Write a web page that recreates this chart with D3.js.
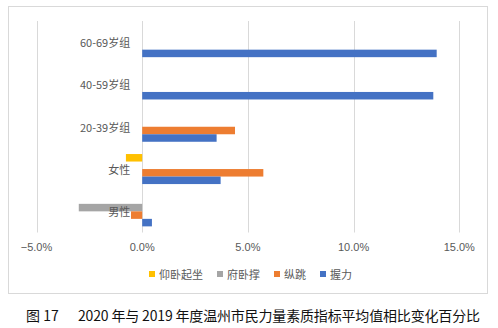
<!DOCTYPE html>
<html>
<head>
<meta charset="utf-8">
<script src="https://cdn.jsdelivr.net/npm/d3@7"></script>
<style>
  html, body { margin: 0; padding: 0; background: #fff; }
  svg { display: block; }
</style>
</head>
<body>
<svg id="chart" width="498" height="328"></svg>
<script>
// Categories, listed bottom to top as they appear on the chart
const categories = ["男性", "女性", "20-39岁组", "40-59岁组", "60-69岁组"];
const seriesNames = ["仰卧起坐", "府卧撑", "纵跳", "握力"];
const seriesColors = ["#FFC000", "#A5A5A5", "#ED7D31", "#4472C4"];

// Percent change 2020 vs 2019, per category (null = no bar)
const situps  = [null, -0.77, null, null, null];
const pushups = [-3.0, null, null, null, null];
const jump    = [-0.53, 5.73, 4.39, null, null];
const grip    = [0.46, 3.71, 3.52, 13.77, 13.93];

const xTicks = [-5, 0, 5, 10, 15];
const caption = "2020 年与 2019 年度温州市民力量素质指标平均值相比变化百分比";

const seriesValues = [situps, pushups, jump, grip];

const svg = d3.select("#chart");
const font = "'Noto Sans CJK SC', 'Microsoft YaHei', sans-serif";
const textGray = "#595959";

// Chart frame
svg.append("rect")
  .attr("x", 8.5).attr("y", 6.5)
  .attr("width", 479).attr("height", 287)
  .attr("fill", "#fff").attr("stroke", "#D9D9D9").attr("stroke-width", 1);

const plot = { left: 36.5, right: 459.3, top: 21, bottom: 232.5 };

const x = d3.scaleLinear().domain([-5, 15]).range([plot.left, plot.right]);

// Top category first in the band scale
const y = d3.scaleBand()
  .domain(categories.slice().reverse())
  .range([plot.top, plot.bottom])
  .paddingInner(0.29)
  .paddingOuter(0.145);

const yInner = d3.scaleBand()
  .domain(seriesNames)
  .range([0, y.bandwidth()]);

// Vertical gridlines
svg.append("g")
  .selectAll("line")
  .data(xTicks)
  .join("line")
  .attr("x1", d => Math.round(x(d)) + 0.5)
  .attr("x2", d => Math.round(x(d)) + 0.5)
  .attr("y1", plot.top)
  .attr("y2", plot.bottom)
  .attr("stroke", "#D9D9D9")
  .attr("stroke-width", 1);

// Bars
const barData = [];
categories.forEach((c, i) => {
  seriesNames.forEach((s, j) => {
    const v = seriesValues[j][i];
    if (v !== null) barData.push({ cat: c, series: s, color: seriesColors[j], value: v });
  });
});

svg.append("g")
  .selectAll("rect")
  .data(barData)
  .join("rect")
  .attr("x", d => x(Math.min(0, d.value)))
  .attr("width", d => Math.abs(x(d.value) - x(0)))
  .attr("y", d => y(d.cat) + yInner(d.series))
  .attr("height", yInner.bandwidth())
  .attr("fill", d => d.color);

// Category labels next to the zero line
svg.append("g")
  .selectAll("text")
  .data(categories)
  .join("text")
  .attr("x", x(0) - 12)
  .attr("y", d => y(d) + y.bandwidth() / 2)
  .attr("text-anchor", "end")
  .attr("dominant-baseline", "central")
  .attr("font-family", font)
  .attr("font-size", 11)
  .attr("fill", textGray)
  .text(d => d);

// X tick labels
const fmt = d3.format(".1f");
svg.append("g")
  .selectAll("text")
  .data(xTicks)
  .join("text")
  .attr("x", d => x(d))
  .attr("y", 247)
  .attr("text-anchor", "middle")
  .attr("dominant-baseline", "central")
  .attr("font-family", "'Liberation Sans', Arial, sans-serif")
  .attr("font-size", 11)
  .attr("fill", textGray)
  .text(d => fmt(d) + "%");

// Legend, centred under the plot
const legend = svg.append("g");
const items = legend.selectAll("g")
  .data(seriesNames.map((s, i) => ({ name: s, color: seriesColors[i] })))
  .join("g");
items.append("rect")
  .attr("width", 6).attr("height", 6)
  .attr("y", 274 - 3)
  .attr("fill", d => d.color);
items.append("text")
  .attr("x", 10)
  .attr("y", 274)
  .attr("dominant-baseline", "central")
  .attr("font-family", font)
  .attr("font-size", 11)
  .attr("fill", textGray)
  .text(d => d.name);
let cursor = 0;
const offsets = [];
items.each(function () {
  const w = d3.select(this).select("text").node().getComputedTextLength();
  offsets.push(cursor);
  cursor += 10 + w + 14;
});
const legendWidth = cursor - 14;
const legendStart = 250.5 - legendWidth / 2;
items.attr("transform", (d, i) => `translate(${legendStart + offsets[i]},0)`);

// Figure caption
svg.append("text")
  .attr("x", 26)
  .attr("y", 315)
  .attr("dominant-baseline", "central")
  .attr("font-family", font)
  .attr("font-size", 14)
  .attr("fill", "#111")
  .text("图 17");
svg.append("text")
  .attr("x", 78)
  .attr("y", 315)
  .attr("dominant-baseline", "central")
  .attr("font-family", font)
  .attr("font-size", 14)
  .attr("fill", "#111")
  .attr("textLength", 402)
  .attr("lengthAdjust", "spacing")
  .text(caption);
</script>
</body>
</html>
